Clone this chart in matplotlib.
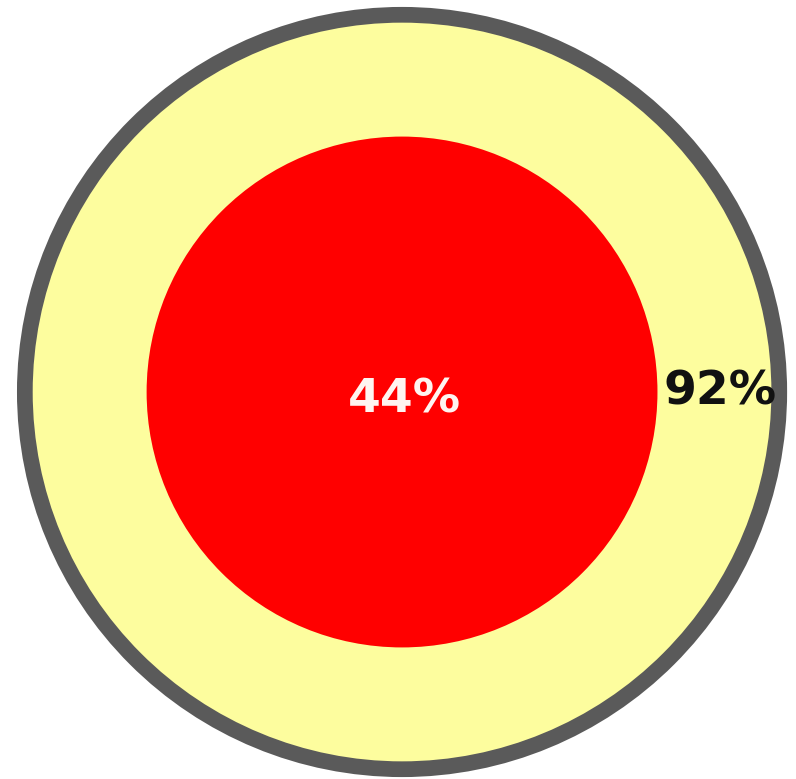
import numpy as np
import matplotlib
matplotlib.use("Agg")
import matplotlib.pyplot as plt
from matplotlib.patches import Circle

# Data
labels = ["92%", "44%"]
values = [0.92, 0.44]   # share of the full (100%) circle area
total = 1.0

fig = plt.figure(figsize=(7.96, 7.79), dpi=100)
ax = fig.add_axes([0, 0, 1, 1])
ax.set_xlim(-1.044, 1.023)
ax.set_ylim(-1.005, 1.018)
ax.set_aspect("equal")
ax.axis("off")

R = np.sqrt(total)
ax.add_patch(Circle((0, 0), R, facecolor="#5a5a5a", edgecolor="none"))
ax.add_patch(Circle((0, 0), np.sqrt(values[0]), facecolor="#fdfd9e", edgecolor="none"))
ax.add_patch(Circle((0, 0), np.sqrt(values[1]), facecolor="#ff0000", edgecolor="none"))

ax.text(0.826, 0.0, labels[0], ha="center", va="center", fontsize=34,
        fontweight="bold", family="DejaVu Sans", color="#111111")
ax.text(0.005, -0.02, labels[1], ha="center", va="center", fontsize=34,
        fontweight="bold", family="DejaVu Sans", color="#fff4f0")

fig.savefig("out.png", dpi=100)
